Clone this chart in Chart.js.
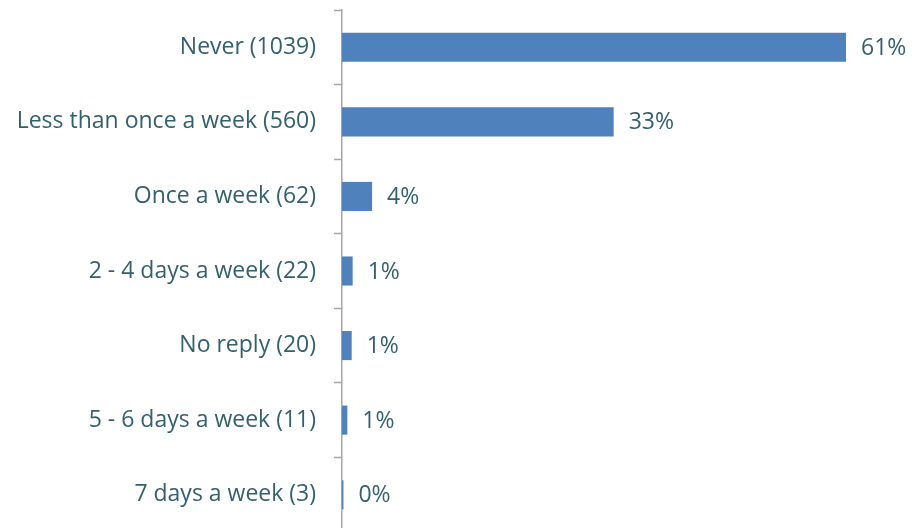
<!DOCTYPE html>
<html>
<head>
<meta charset="utf-8">
<script src="https://cdn.jsdelivr.net/npm/chart.js@4.4.0/dist/chart.umd.min.js"></script>
<style>
  html, body { margin: 0; padding: 0; background: #fff; overflow: hidden; }
  #wrap { width: 912px; height: 532px; position: relative; }
</style>
</head>
<body>
<div id="wrap"><canvas id="chart"></canvas></div>
<script>
const categories = [
  "Never (1039)",
  "Less than once a week (560)",
  "Once a week (62)",
  "2 - 4 days a week (22)",
  "No reply (20)",
  "5 - 6 days a week (11)",
  "7 days a week (3)",
];
const counts = [1039, 560, 62, 22, 20, 11, 3];
const pctLabels = ["61%", "33%", "4%", "1%", "1%", "1%", "0%"];

const textColor = "#33606f";
const barColor = "#4f81bd";
const axisColor = "#a6a6a6";
const fontFamily = "'Open Sans', sans-serif";

const valueLabels = {
  id: "valueLabels",
  afterDatasetsDraw: function (chart) {
    const ctx = chart.ctx;
    const meta = chart.getDatasetMeta(0);
    ctx.save();
    ctx.fillStyle = textColor;
    ctx.font = "23px " + fontFamily;
    ctx.textBaseline = "middle";
    ctx.textAlign = "left";
    meta.data.forEach(function (bar, i) {
      ctx.fillText(pctLabels[i], bar.x + 15, bar.y + 1);
    });
    ctx.restore();
  },
};

const ctx = document.getElementById("chart").getContext("2d");
const chart = new Chart(ctx, {
  type: "bar",
  data: {
    labels: categories,
    datasets: [
      {
        data: counts,
        backgroundColor: barColor,
        borderWidth: 0,
        categoryPercentage: 1,
        barPercentage: 0.39,
      },
    ],
  },
  plugins: [valueLabels],
  options: {
    indexAxis: "y",
    responsive: true,
    maintainAspectRatio: false,
    animation: false,
    layout: { padding: { top: 10, bottom: 0, left: 0, right: 0 } },
    plugins: {
      legend: { display: false },
      tooltip: { enabled: false },
    },
    scales: {
      x: {
        display: false,
        min: 0,
        max: 1175,
      },
      y: {
        grid: {
          display: true,
          drawOnChartArea: false,
          offset: true,
          tickLength: 8,
          tickColor: axisColor,
          tickWidth: 1.5,
        },
        border: { color: axisColor, width: 1.5 },
        ticks: {
          color: textColor,
          padding: 18,
          font: { family: fontFamily, size: 23 },
        },
        afterFit: function (scale) {
          scale.width = 342;
          scale.paddingTop = 0;
          scale.paddingBottom = 0;
        },
      },
    },
  },
});
</script>
</body>
</html>
